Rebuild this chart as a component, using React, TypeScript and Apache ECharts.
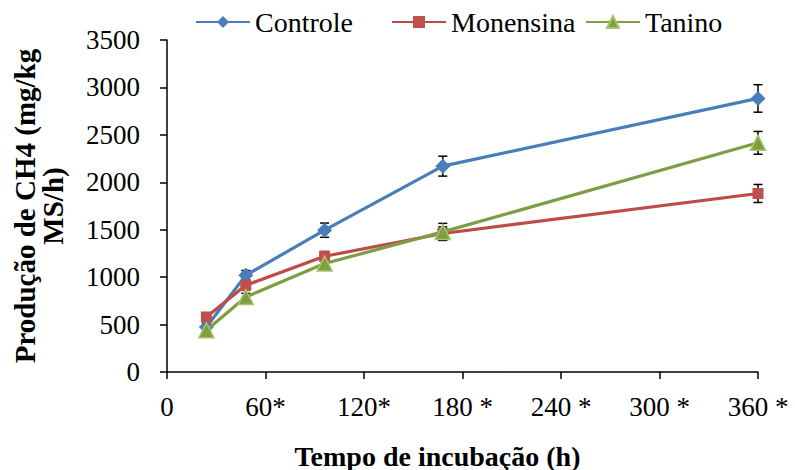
import React, { useEffect, useRef } from "react";
import * as echarts from "echarts";

const hours = [24, 48, 96, 168, 360];
const controle = [475, 1020, 1495, 2170, 2884];
const monensina = [580, 915, 1220, 1460, 1882];
const tanino = [440, 790, 1143, 1477, 2416];
const controleErr = [40, 50, 75, 105, 145];
const monensinaErr = [35, 50, 50, 70, 95];
const taninoErr = [30, 40, 50, 90, 120];
const xTickLabels: Record<number, string> = {
  0: "0",
  60: "60*",
  120: "120*",
  180: "180 *",
  240: "240 *",
  300: "300 *",
  360: "360 *",
};

const FONT = "'Liberation Serif', 'Times New Roman', Times, serif";

function errSeries(vals: number[], errs: number[]) {
  return {
    type: "custom",
    silent: true,
    z: 2,
    data: hours.map((h, i) => [h, vals[i] - errs[i], vals[i] + errs[i]]),
    renderItem: (params: any, api: any) => {
      const lo = api.coord([api.value(0), api.value(1)]);
      const hi = api.coord([api.value(0), api.value(2)]);
      const w = 4.5;
      const style = { stroke: "#000", lineWidth: 1.5 };
      return {
        type: "group",
        children: [
          { type: "line", shape: { x1: lo[0], y1: lo[1], x2: hi[0], y2: hi[1] }, style },
          { type: "line", shape: { x1: lo[0] - w, y1: lo[1], x2: lo[0] + w, y2: lo[1] }, style },
          { type: "line", shape: { x1: hi[0] - w, y1: hi[1], x2: hi[0] + w, y2: hi[1] }, style },
        ],
      };
    },
  };
}

const legendBase = {
  top: 8,
  itemWidth: 54,
  itemHeight: 15,
  itemGap: 0,
  padding: 0,
  textStyle: { fontFamily: FONT, fontSize: 28, color: "#000", padding: [0, 0, 0, 0] },
};

export default function App() {
  const ref = useRef<HTMLDivElement>(null);
  useEffect(() => {
    document.body.style.margin = "0";
    const chart = echarts.init(ref.current!, null, { renderer: "svg" });
    chart.setOption({
      animation: false,
      backgroundColor: "#fff",
      legend: [
        { ...legendBase, left: 195, data: ["Controle"] },
        { ...legendBase, left: 391, data: ["Monensina"] },
        { ...legendBase, left: 585, data: ["Tanino"] },
      ],
      grid: {
        left: 167,
        right: 37,
        top: 40,
        bottom: 98,
        containLabel: false,
        outerBoundsMode: "none",
      },
      xAxis: {
        type: "value",
        min: 0,
        max: 360,
        interval: 60,
        name: "Tempo de incubação (h)",
        nameLocation: "middle",
        nameGap: 70,
        nameTextStyle: {
          fontFamily: FONT,
          fontSize: 28,
          fontWeight: "bold",
          color: "#000",
          lineHeight: 28,
          padding: [0, 50, 0, 0],
        },
        axisLine: { lineStyle: { color: "#000", width: 1.5 } },
        axisTick: { show: true, length: 7, lineStyle: { color: "#000", width: 1.5 } },
        axisLabel: {
          fontFamily: FONT,
          fontSize: 27,
          color: "#000",
          margin: 21,
          formatter: (v: number) => xTickLabels[v] ?? String(v),
        },
        splitLine: { show: false },
      },
      yAxis: {
        type: "value",
        min: 0,
        max: 3500,
        interval: 500,
        name: "Produção de CH4 (mg/kg\nMS/h)",
        nameLocation: "middle",
        nameRotate: 90,
        nameGap: 100,
        nameTextStyle: {
          fontFamily: FONT,
          fontSize: 29,
          fontWeight: "bold",
          color: "#000",
          lineHeight: 28,
          align: "center",
        },
        axisLine: { show: true, lineStyle: { color: "#000", width: 1.5 } },
        axisTick: { show: true, length: 7, lineStyle: { color: "#000", width: 1.5 } },
        axisLabel: {
          fontFamily: FONT,
          fontSize: 27,
          color: "#000",
          margin: 27,
          formatter: (v: number) => String(v),
        },
        splitLine: { show: false },
      },
      series: [
        errSeries(controle, controleErr),
        errSeries(monensina, monensinaErr),
        errSeries(tanino, taninoErr),
        {
          name: "Controle",
          type: "line",
          z: 3,
          data: hours.map((h, i) => [h, controle[i]]),
          symbol: "diamond",
          symbolSize: 15,
          lineStyle: { color: "#4A7EBB", width: 3.2 },
          itemStyle: { color: "#4A7EBB" },
        },
        {
          name: "Monensina",
          type: "line",
          z: 3,
          data: hours.map((h, i) => [h, monensina[i]]),
          symbol: "rect",
          symbolSize: 11,
          lineStyle: { color: "#BE4B48", width: 3.2 },
          itemStyle: { color: "#C0504D" },
        },
        {
          name: "Tanino",
          type: "line",
          z: 4,
          data: hours.map((h, i) => [h, tanino[i]]),
          symbol: "triangle",
          symbolSize: 15,
          lineStyle: { color: "#7E9E43", width: 3.2 },
          itemStyle: { color: "#7E9E43", borderColor: "#A6C46A", borderWidth: 1.5 },
        },
      ],
    });
    return () => chart.dispose();
  }, []);
  return <div ref={ref} style={{ width: 795, height: 470 }} />;
}
